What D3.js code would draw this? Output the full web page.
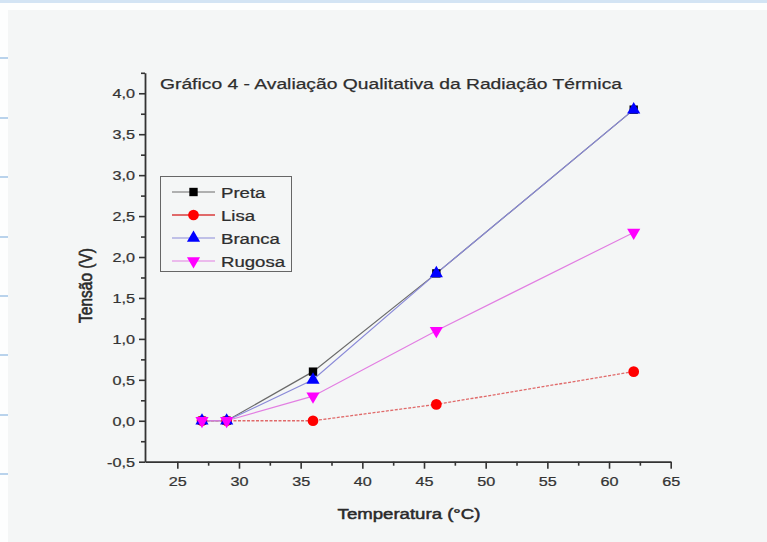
<!DOCTYPE html>
<html>
<head>
<meta charset="utf-8">
<script src="https://cdn.jsdelivr.net/npm/d3@7/dist/d3.min.js"></script>
<style>
  html, body { margin: 0; padding: 0; background: #ffffff; }
  svg { display: block; font-family: "Liberation Sans", Arial, sans-serif; }
</style>
</head>
<body>
<svg id="chart" width="767" height="542"></svg>
<script>
// ---- data ----
const temps  = [27, 29, 36, 46, 62];
const preta  = [0, 0, 0.6, 1.8, 3.8];
const lisa   = [0, 0, 0, 0.2, 0.6];
const branca = [0, 0, 0.5, 1.8, 3.8];
const rugosa = [0, 0, 0.3, 1.1, 2.3];
const seriesNames = ["Preta", "Lisa", "Branca", "Rugosa"];
const xTicks = [25, 30, 35, 40, 45, 50, 55, 60, 65];
const yTicks = [-0.5, 0, 0.5, 1, 1.5, 2, 2.5, 3, 3.5, 4];
const titleText = "Gráfico 4 - Avaliação Qualitativa da Radiação Térmica";
const xLabel = "Temperatura (°C)";
const yLabel = "Tensão (V)";

// ---- styles ----
const SX = 1.2; // horizontal stretch of the original picture
const styles = {
  Preta:  { line: "#6a6a6a", fill: "#000000", sym: d3.symbolSquare,   size: 70, dash: null, lw: 1.2 },
  Lisa:   { line: "#e06a6a", fill: "#ff0000", sym: d3.symbolCircle,   size: 90, dash: "3,1.5", lw: 1.3 },
  Branca: { line: "#8a8ad8", fill: "#0000ff", sym: d3.symbolTriangle, size: 75, dash: null, lw: 1.2 },
  Rugosa: { line: "#e27ee2", fill: "#ff00ff", sym: d3.symbolTriangle, size: 75, dash: null, lw: 1.2, flip: true }
};
const values = { Preta: preta, Lisa: lisa, Branca: branca, Rugosa: rugosa };

const svg = d3.select("#chart");

// background / frame
svg.append("rect").attr("x", 0).attr("y", 0).attr("width", 767).attr("height", 542).attr("fill", "#fdfefe");
svg.append("rect").attr("x", 0).attr("y", 0).attr("width", 767).attr("height", 3).attr("fill", "#d3e4f4");
svg.append("rect").attr("x", 8).attr("y", 10).attr("width", 759).attr("height", 532).attr("fill", "#f4f6f6");
[58, 118, 177, 237, 296, 355, 415, 474].forEach(yy => {
  svg.append("line").attr("x1", 0).attr("x2", 8).attr("y1", yy).attr("y2", yy)
    .attr("stroke", "#b9d3ec").attr("stroke-width", 2);
});

// scales
const x = d3.scaleLinear().domain([22.38, 65]).range([145, 670.7]);
const y = d3.scaleLinear().domain([-0.5, 4.25]).range([461.7, 72.8]);

const fmt = v => d3.format(".1f")(v).replace(".", ",").replace("\u2212", "-");
const axisColor = "#333";

// minor ticks
const xMinor = xTicks.slice(0, -1).map(v => v + 2.5);
const yMinor = yTicks.map(v => v + 0.25);

const gx = svg.append("g").attr("transform", `translate(0,${y(-0.5)})`);
gx.call(d3.axisBottom(x).tickValues(xTicks).tickFormat(d3.format("d")).tickSize(7).tickSizeOuter(0).tickPadding(8));
gx.append("g").call(d3.axisBottom(x).tickValues(xMinor).tickFormat("").tickSize(4).tickSizeOuter(0))
  .select(".domain").remove();

const gy = svg.append("g").attr("transform", `translate(${x(22.38)},0)`);
gy.call(d3.axisLeft(y).tickValues(yTicks).tickFormat(fmt).tickSize(6).tickSizeOuter(0).tickPadding(4));
gy.append("g").call(d3.axisLeft(y).tickValues(yMinor).tickFormat("").tickSize(4).tickSizeOuter(0))
  .select(".domain").remove();

[gx, gy].forEach(g => {
  g.selectAll(".domain").attr("stroke", axisColor).attr("stroke-width", 1.8);
  g.selectAll(".tick line").attr("stroke", axisColor).attr("stroke-width", 1.6);
  g.selectAll(".tick text").attr("fill", "#333").attr("font-size", 13.5)
    .attr("stroke", "#333").attr("stroke-width", 0.25)
    .attr("font-family", "Liberation Sans, Arial, sans-serif");
});
gy.selectAll(".tick text").each(function () {
  const t = d3.select(this);
  t.attr("x", -10 / SX).attr("transform", `scale(${SX},1)`);
});
gx.selectAll(".tick text").attr("transform", `scale(${SX},1)`);

// series
const line = d3.line().x(d => x(d[0])).y(d => y(d[1]));
seriesNames.forEach(name => {
  const st = styles[name];
  const pts = temps.map((t, i) => [t, values[name][i]]);
  svg.append("path").datum(pts).attr("d", line).attr("fill", "none")
    .attr("stroke", st.line).attr("stroke-width", st.lw)
    .attr("stroke-dasharray", st.dash);
});
seriesNames.forEach(name => {
  const st = styles[name];
  const pts = temps.map((t, i) => [t, values[name][i]]);
  svg.append("g").selectAll("path").data(pts).join("path")
    .attr("d", d3.symbol().type(st.sym).size(st.size))
    .attr("transform", d => `translate(${x(d[0])},${y(d[1])})` + (st.flip ? " rotate(180)" : ""))
    .attr("fill", st.fill);
});

// title
svg.append("text").attr("x", 160).attr("y", 88.5).text(titleText)
  .attr("font-size", 15.5).attr("fill", "#2e2e2e").attr("stroke", "#2e2e2e").attr("stroke-width", 0.25)
  .attr("textLength", 462).attr("lengthAdjust", "spacingAndGlyphs");

// legend
const lg = svg.append("g");
lg.append("rect").attr("x", 160.5).attr("y", 176.5).attr("width", 131).attr("height", 95)
  .attr("fill", "none").attr("stroke", "#666").attr("stroke-width", 1);
seriesNames.forEach((name, i) => {
  const st = styles[name];
  const cy = 192 + i * 23;
  lg.append("line").attr("x1", 172).attr("x2", 215).attr("y1", cy).attr("y2", cy)
    .attr("stroke", st.line).attr("stroke-width", name === "Lisa" ? 2 : 1.2);
  lg.append("path").attr("d", d3.symbol().type(st.sym).size(st.size)())
    .attr("transform", `translate(193.5,${cy})` + (st.flip ? " rotate(180)" : ""))
    .attr("fill", st.fill);
  lg.append("text").attr("transform", `translate(221,${cy}) scale(${SX},1)`)
    .attr("dy", "0.36em").attr("font-size", 15.5).attr("fill", "#2e2e2e")
    .attr("stroke", "#2e2e2e").attr("stroke-width", 0.25).text(name);
});

// axis titles
svg.append("text").attr("transform", `translate(409,519) scale(${SX},1)`)
  .attr("text-anchor", "middle").attr("font-size", 15.5)
  .attr("fill", "#2a2a2a").attr("stroke", "#2a2a2a").attr("stroke-width", 0.5).text(xLabel);
svg.append("text").attr("transform", `translate(92,285.5) scale(${SX},1) rotate(-90)`)
  .attr("text-anchor", "middle").attr("font-size", 15.5)
  .attr("fill", "#2a2a2a").attr("stroke", "#2a2a2a").attr("stroke-width", 0.5).text(yLabel);
</script>
</body>
</html>
